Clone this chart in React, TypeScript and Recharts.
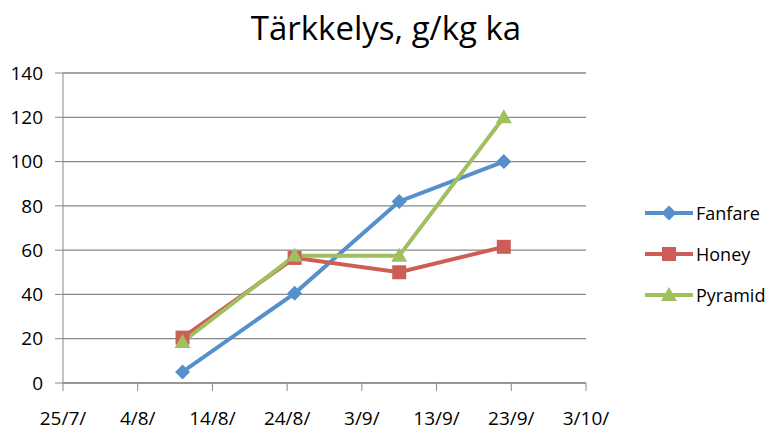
import React from 'react';
import { LineChart, Line, XAxis, YAxis, CartesianGrid } from 'recharts';

const sampleDates = ['2011-08-10', '2011-08-25', '2011-09-08', '2011-09-22'];
const fanfare = [5, 40.5, 82, 100];
const honey = [20.5, 56.5, 50, 61.5];
const pyramid = [18.5, 57.5, 57.5, 120];

const xTickDates = ['2011-07-25', '2011-08-04', '2011-08-14', '2011-08-24', '2011-09-03', '2011-09-13', '2011-09-23', '2011-10-03'];
const xTickLabels = ['25/7/', '4/8/', '14/8/', '24/8/', '3/9/', '13/9/', '23/9/', '3/10/'];
const yTicks = [0, 20, 40, 60, 80, 100, 120, 140];

const title = 'Tärkkelys, g/kg ka';
const seriesNames = ['Fanfare', 'Honey', 'Pyramid'];
const colors = ['#5690CC', '#CC5E57', '#A0C060'];

const toTime = (d: string) => Date.parse(d + 'T00:00:00Z');
const xTicks = xTickDates.map(toTime);

const data = sampleDates.map((d, i) => ({
  t: toTime(d),
  Fanfare: fanfare[i],
  Honey: honey[i],
  Pyramid: pyramid[i],
}));

const FONT = '"Open Sans", sans-serif';

const Diamond = (props: any) => {
  const { cx, cy } = props;
  if (cx == null || cy == null) return null;
  const r = 7.5;
  return <path d={`M${cx},${cy - r}L${cx + r},${cy}L${cx},${cy + r}L${cx - r},${cy}Z`} fill={colors[0]} />;
};
const Square = (props: any) => {
  const { cx, cy } = props;
  if (cx == null || cy == null) return null;
  const r = 7;
  return <rect x={cx - r} y={cy - r} width={2 * r} height={2 * r} fill={colors[1]} />;
};
const Triangle = (props: any) => {
  const { cx, cy } = props;
  if (cx == null || cy == null) return null;
  const r = 8;
  return <path d={`M${cx},${cy - r}L${cx + r},${cy + r * 0.75}L${cx - r},${cy + r * 0.75}Z`} fill={colors[2]} />;
};
const markers = [Diamond, Square, Triangle];

const LegendBox = () => (
  <div style={{ position: 'absolute', left: 645, top: 192, fontFamily: FONT, fontSize: 18, color: '#000' }}>
    {seriesNames.map((n, i) => {
      const M = markers[i];
      return (
        <div key={n} style={{ display: 'flex', alignItems: 'center', height: 41 }}>
          <svg width={49} height={20} style={{ display: 'block' }}>
            <line x1={0} y1={10} x2={48} y2={10} stroke={colors[i]} strokeWidth={4} />
            <M cx={24} cy={10} />
          </svg>
          <span style={{ marginLeft: 2 }}>{n}</span>
        </div>
      );
    })}
  </div>
);

export default function App() {
  return (
    <div style={{ position: 'absolute', left: 0, top: 0, width: 772, height: 433, background: '#fff' }}>
      <div
        style={{
          position: 'absolute',
          left: 0,
          top: 5,
          width: 772,
          textAlign: 'center',
          fontFamily: FONT,
          fontSize: 33,
          color: '#000',
          lineHeight: '46px',
        }}
      >
        {title}
      </div>
      <LineChart
        width={772}
        height={433}
        data={data}
        margin={{ top: 73, right: 186, bottom: 0, left: 0 }}
      >
        <CartesianGrid horizontal vertical={false} stroke="#888888" strokeWidth={1.3} />
        <XAxis
          dataKey="t"
          type="number"
          domain={[xTicks[0], xTicks[xTicks.length - 1]]}
          ticks={xTicks}
          tickFormatter={(v: number) => xTickLabels[xTicks.indexOf(v)] ?? ''}
          stroke="#888888"
          tickSize={8}
          tickMargin={21}
          height={50}
          tick={{ fill: '#000', fontSize: 19, fontFamily: FONT }}
          interval={0}
        />
        <YAxis
          domain={[0, 140]}
          ticks={yTicks}
          width={63}
          stroke="#888888"
          tickSize={8}
          tickMargin={12}
          tick={{ fill: '#000', fontSize: 19, fontFamily: FONT }}
          interval={0}
        />
        {seriesNames.map((n, i) => (
          <Line
            key={n}
            dataKey={n}
            type="linear"
            stroke={colors[i]}
            strokeWidth={4}
            dot={markers[i]}
            activeDot={false}
            isAnimationActive={false}
          />
        ))}
      </LineChart>
      <LegendBox />
    </div>
  );
}
